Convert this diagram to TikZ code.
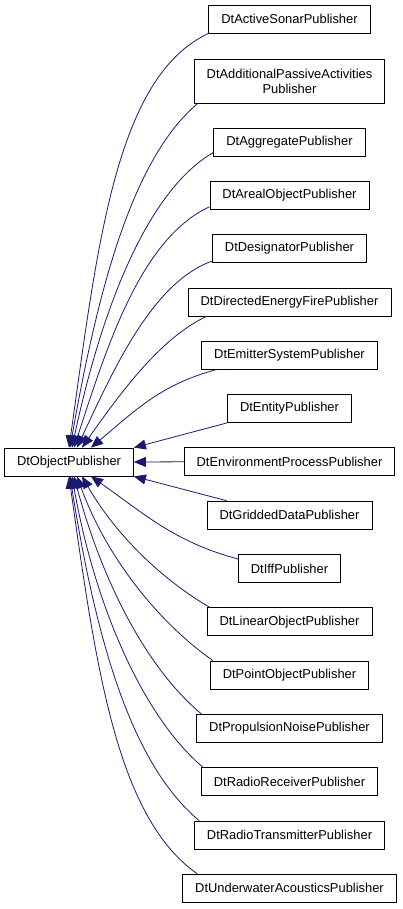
\documentclass[tikz,border=0pt]{standalone}
\usepackage{fontspec}
\setmainfont{Liberation Sans}
\usetikzlibrary{arrows.meta}
\definecolor{edgeblue}{HTML}{191970}

\begin{document}
\begin{tikzpicture}[x=1pt,y=-1pt,
  cls/.style={draw=black,line width=0.8pt,fill=white,inner xsep=12.5pt,
    minimum height=28pt,font=\fontsize{12.9}{15}\selectfont},
  inh/.style={draw=edgeblue,line width=0.8pt,
    -{Triangle[length=12pt,width=10pt,fill=edgeblue]}}]

\useasboundingbox (0,0) rectangle (403,909);

% base class
\node[cls] (obj) at (69,462) {DtObjectPublisher};

% derived classes
\node[cls] (sonar) at (289.5,19) {DtActiveSonarPublisher};
\node[cls,align=center,minimum height=44pt] (passive) at (289.5,81)
   {DtAdditionalPassiveActivities\\Publisher};
\node[cls] (aggr) at (289.5,142) {DtAggregatePublisher};
\node[cls] (areal) at (289.5,195.3) {DtArealObjectPublisher};
\node[cls] (desig) at (289.5,248.6) {DtDesignatorPublisher};
\node[cls] (energy) at (289.5,301.9) {DtDirectedEnergyFirePublisher};
\node[cls] (emitter) at (289.5,355.2) {DtEmitterSystemPublisher};
\node[cls] (entity) at (289.5,408.5) {DtEntityPublisher};
\node[cls] (environ) at (289.5,461.8) {DtEnvironmentProcessPublisher};
\node[cls] (grid) at (289.5,515.1) {DtGriddedDataPublisher};
\node[cls] (iff) at (289.5,568.4) {DtIffPublisher};
\node[cls] (linear) at (289.5,621.7) {DtLinearObjectPublisher};
\node[cls] (point) at (289.5,675) {DtPointObjectPublisher};
\node[cls] (noise) at (289.5,728.3) {DtPropulsionNoisePublisher};
\node[cls] (receiver) at (289.5,781.6) {DtRadioReceiverPublisher};
\node[cls] (transmit) at (289.5,834.9) {DtRadioTransmitterPublisher};
\node[cls] (acoustic) at (289.5,888.2) {DtUnderwaterAcousticsPublisher};

% inheritance arrows, upper half
\draw[inh] (sonar.south west) to[out=205,in=82,out looseness=0.6,in looseness=1.2]
   (obj.north);
\draw[inh] ([xshift=4pt]passive.south west) to[out=220,in=80,out looseness=0.6,in looseness=1.1]
   ([xshift=1pt]obj.north);
\draw[inh] ([yshift=4pt]aggr.south west) to[out=210,in=78,out looseness=0.6,in looseness=1.1]
   ([xshift=3pt]obj.north);
\draw[inh] ([yshift=3pt]areal.south west) to[out=205,in=72,out looseness=0.7]
   ([xshift=5pt]obj.north);
\draw[inh] ([yshift=2pt]desig.south west) to[out=200,in=65,out looseness=0.7]
   ([xshift=8pt]obj.north);
\draw[inh] ([xshift=19pt]energy.south west) to[out=205,in=55,out looseness=0.7]
   ([xshift=13pt]obj.north);
\draw[inh] ([xshift=15pt]emitter.south west) to[out=195,in=40]
   ([xshift=22pt]obj.north);

% straight ones
\draw[inh] (entity.south west) -- (obj.north east);
\draw[inh] (environ.west) -- (obj.east);
\draw[inh] ([xshift=20pt]grid.north west) -- (obj.south east);

% inheritance arrows, lower half
\draw[inh] ([yshift=-5pt]iff.north west) to[out=165,in=325]
   ([xshift=22pt]obj.south);
\draw[inh] ([xshift=3pt]linear.north west) to[out=150,in=300,out looseness=0.7]
   ([xshift=13pt]obj.south);
\draw[inh] ([xshift=3pt]point.north west) to[out=145,in=290,out looseness=0.7]
   ([xshift=8pt]obj.south);
\draw[inh] ([xshift=5pt]noise.north west) to[out=140,in=285,out looseness=0.7]
   ([xshift=5pt]obj.south);
\draw[inh] ([xshift=2pt]receiver.north west) to[out=140,in=280,out looseness=0.6,in looseness=1.1]
   ([xshift=3pt]obj.south);
\draw[inh] ([xshift=5pt]transmit.north west) to[out=140,in=279,out looseness=0.6,in looseness=1.2]
   ([xshift=1pt]obj.south);
\draw[inh] ([xshift=15pt]acoustic.north west) to[out=145,in=278,out looseness=0.6,in looseness=1.2]
   (obj.south);

\end{tikzpicture}
\end{document}
